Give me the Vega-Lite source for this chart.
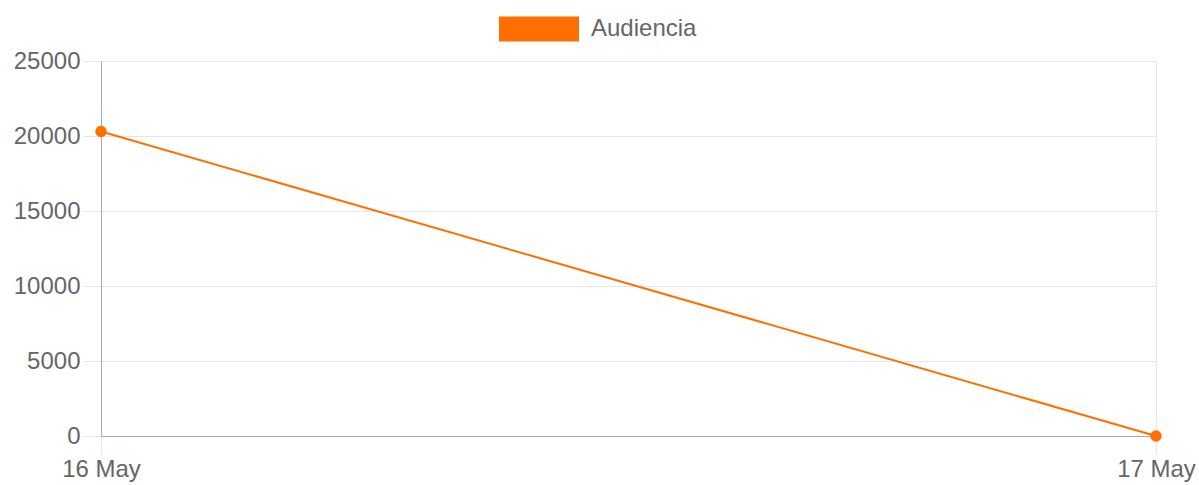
{
  "$schema": "https://vega.github.io/schema/vega-lite/v6.json",
  "width": 1055,
  "height": 375,
  "autosize": {"type": "none"},
  "padding": {"left": 101, "top": 61, "right": 43, "bottom": 49},
  "background": "white",
  "config": {
    "view": {"stroke": null},
    "font": "Liberation Sans",
    "axis": {
      "labelFont": "Liberation Sans",
      "labelFontSize": 24,
      "labelColor": "#666666",
      "gridColor": "#e6e6e6",
      "tickColor": "#e6e6e6",
      "domainColor": "#aaaaaa",
      "tickSize": 18,
      "title": null
    }
  },
  "data": {
    "values": [
      {"date": "16 May", "value": 20300, "series": "Audiencia"},
      {"date": "17 May", "value": 0, "series": "Audiencia"}
    ]
  },
  "encoding": {
    "x": {
      "field": "date",
      "type": "ordinal",
      "sort": null,
      "scale": {"type": "point", "padding": 0},
      "axis": {"labelAngle": 0, "grid": true, "labelPadding": 3, "title": null}
    },
    "y": {
      "field": "value",
      "type": "quantitative",
      "scale": {"domain": [0, 25000], "nice": false},
      "axis": {"values": [0, 5000, 10000, 15000, 20000, 25000], "format": "d", "labelPadding": 3, "title": null}
    },
    "color": {
      "field": "series",
      "type": "nominal",
      "scale": {"range": ["#ff6f00"]},
      "legend": {
        "title": null,
        "orient": "none",
        "legendX": 398,
        "legendY": -72,
        "padding": 0,
        "symbolType": "M-1,-0.3125H1V0.3125H-1Z",
        "symbolSize": 6400,
        "symbolStrokeWidth": 0,
        "symbolOpacity": 1,
        "labelFont": "Liberation Sans",
        "labelFontSize": 24,
        "labelColor": "#666666",
        "labelOffset": 12
      }
    }
  },
  "layer": [
    {"mark": {"type": "line", "strokeWidth": 2}},
    {"mark": {"type": "point", "filled": true, "opacity": 1, "size": 130}}
  ]
}
